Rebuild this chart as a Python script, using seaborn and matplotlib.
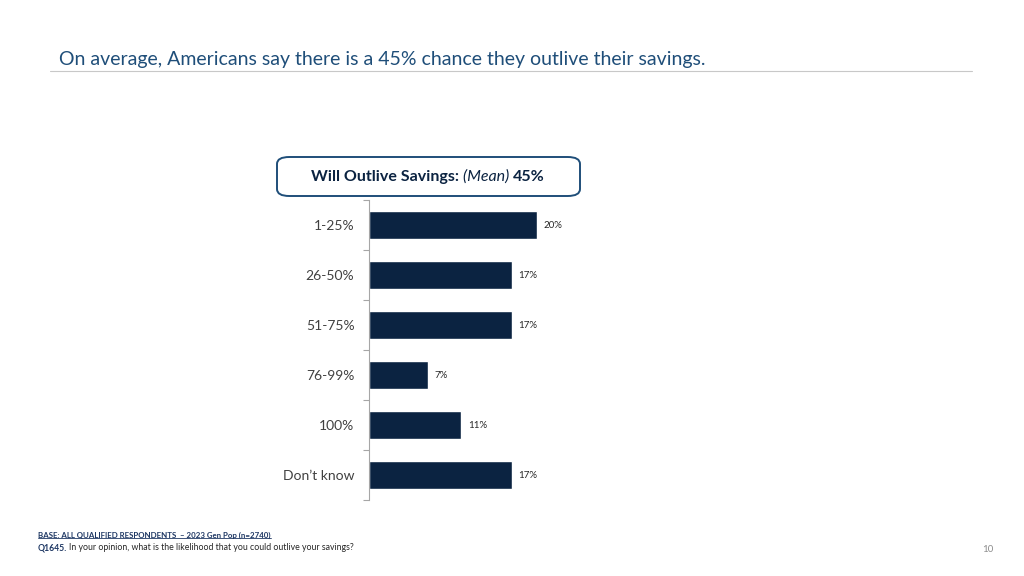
import matplotlib
matplotlib.use("Agg")
import matplotlib.pyplot as plt
import seaborn as sns
import pandas as pd
from matplotlib.patches import FancyBboxPatch
from matplotlib.lines import Line2D

# Chart data
categories = ["1-25%", "26-50%", "51-75%", "76-99%", "100%", "Don\u2019t know"]
values = [20, 17, 17, 7, 11, 17]
mean_value = 45

df = pd.DataFrame({"bucket": categories, "pct": values})

sns.set_theme(style="white")
plt.rcParams["font.family"] = ["Lato", "DejaVu Sans"]

navy = "#0B2341"
title_blue = "#1F4E79"

fig = plt.figure(figsize=(10.24, 5.76), dpi=100)
W, H = 1024, 576

# axes placed in pixel terms: left 369, top 200, bottom 500
ax = fig.add_axes([369 / W, 1 - 500 / H, 252 / W, 300 / H])
sns.barplot(data=df, y="bucket", x="pct", color=navy, width=0.56, ax=ax,
            saturation=1, orient="h")
ax.set_xlim(0, 30)
ax.set_ylim(5.5, -0.5)
ax.set_xlabel("")
ax.set_ylabel("")
ax.set_xticks([])
for s in ["top", "right", "bottom"]:
    ax.spines[s].set_visible(False)
ax.spines["left"].set_color("#A6A6A6")
ax.spines["left"].set_linewidth(0.8)
ax.set_yticks(range(len(categories)))
ax.set_yticklabels(categories, fontsize=10, color="#404040")
ax.tick_params(axis="y", which="major", left=True, length=0, pad=10.5)
ax.set_yticks([i - 0.5 for i in range(len(categories) + 1)], minor=True)
ax.tick_params(axis="y", which="minor", left=True, length=4, color="#A6A6A6",
               width=0.8, direction="out")

for i, v in enumerate(values):
    ax.text(v + 0.75, i, f"{v}%", va="center", ha="left", fontsize=7, color="#262626")

# Title and rule
fig.text(59 / W, 1 - 59 / H, "On average, Americans say there is a 45% chance they outlive their savings.",
         fontsize=14, color=title_blue, va="center", ha="left")
fig.add_artist(Line2D([50 / W, 972 / W], [1 - 71 / H, 1 - 71 / H], color="#C8C8C8", lw=0.8))

# Mean box
box = FancyBboxPatch((277 / W, 1 - 196 / H), 303 / W, 39 / H,
                     boxstyle="round,pad=0,rounding_size=0.012",
                     transform=fig.transFigure, facecolor="white",
                     edgecolor=title_blue, lw=1.4)
fig.add_artist(box)

fig.canvas.draw()
renderer = fig.canvas.get_renderer()
parts = [("Will Outlive Savings: ", "bold", "normal"),
         ("(Mean) ", "normal", "italic"),
         (f"{mean_value}%", "bold", "normal")]
texts = []
for txt, wt, st in parts:
    t = fig.text(0, 1 - 177 / H, txt, fontsize=11.5, fontweight=wt, fontstyle=st,
                 color=navy, va="center", ha="left")
    texts.append(t)
widths = [t.get_window_extent(renderer).width for t in texts]
x = 428 - sum(widths) / 2
for t, w in zip(texts, widths):
    t.set_x(x / W)
    x += w

# Footnotes
base = fig.text(38 / W, 1 - 535 / H, "BASE: ALL QUALIFIED RESPONDENTS  \u2013 2023 Gen Pop (n=2740)",
                fontsize=5.7, fontweight="bold", color="#1F3864", va="center", ha="left")
bb = base.get_window_extent(renderer)
fig.add_artist(Line2D([bb.x0 / W, bb.x1 / W], [(bb.y0 + 1) / H, (bb.y0 + 1) / H],
                      color="#1F3864", lw=0.6))
q = fig.text(38 / W, 1 - 548 / H, "Q1645.", fontsize=6.2, fontweight="bold",
             color="#1F3864", va="center", ha="left")
qw = q.get_window_extent(renderer).width
fig.text((38 + qw + 2) / W, 1 - 548 / H,
         "In your opinion, what is the likelihood that you could outlive your savings?",
         fontsize=6.3, color="#262626", va="center", ha="left")
fig.text(988 / W, 1 - 549 / H, "10", fontsize=7, color="#8C8C8C", va="center", ha="center")

fig.savefig("out.png", dpi=100)
